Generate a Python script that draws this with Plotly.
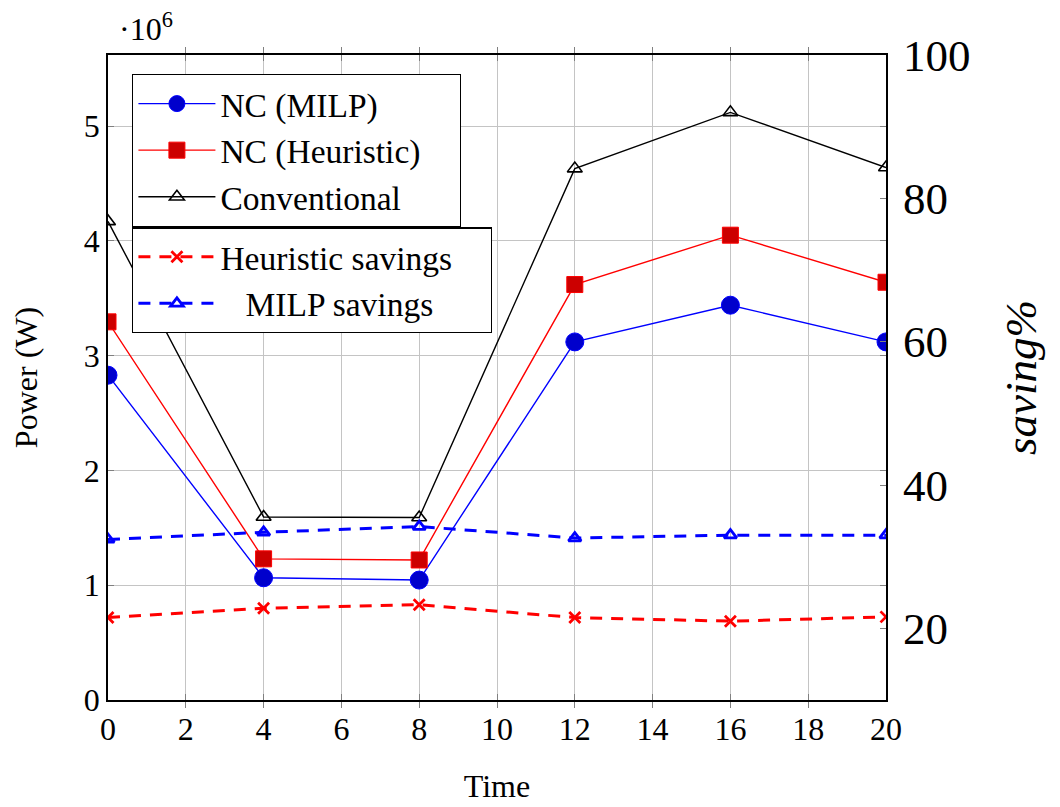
import plotly.graph_objects as go

time = [0, 4, 8, 12, 16, 20]
nc_milp = [2.83e6, 1.065e6, 1.045e6, 3.12e6, 3.44e6, 3.12e6]
nc_heur = [3.295e6, 1.23e6, 1.22e6, 3.62e6, 4.05e6, 3.64e6]
conventional = [4.17e6, 1.595e6, 1.59e6, 4.63e6, 5.12e6, 4.64e6]
heur_savings = [21.5, 22.8, 23.3, 21.5, 21.0, 21.6]
milp_savings = [32.4, 33.4, 34.2, 32.6, 33.0, 33.0]

left_ticks = [0, 1e6, 2e6, 3e6, 4e6, 5e6]
left_ticktext = ["0", "1", "2", "3", "4", "5"]
right_ticks = [20, 40, 60, 80, 100]
x_ticks = [0, 2, 4, 6, 8, 10, 12, 14, 16, 18, 20]

FONT = "Liberation Serif"
BASE = 32
LEG = 33.5
NB = "\u00a0"

fig = go.Figure()
fig.add_trace(go.Scatter(x=time, y=nc_milp, name="NC (MILP)", mode="lines+markers",
                         line=dict(color="#0000ff", width=1.4),
                         marker=dict(symbol="circle", size=18, color="#0000cc",
                                     line=dict(color="#0000ff", width=1)),
                         legend="legend"))
fig.add_trace(go.Scatter(x=time, y=nc_heur, name="NC (Heuristic)" + NB * 4, mode="lines+markers",
                         line=dict(color="#ff0000", width=1.4),
                         marker=dict(symbol="square", size=16, color="#cc0000",
                                     line=dict(color="#ff0000", width=1)),
                         legend="legend"))
fig.add_trace(go.Scatter(x=time, y=conventional, name="Conventional", mode="lines+markers",
                         line=dict(color="#000000", width=1.4),
                         marker=dict(symbol="triangle-up-open", size=13, color="#000000",
                                     line=dict(color="#000000", width=1.6)),
                         legend="legend"))
fig.add_trace(go.Scatter(x=time, y=heur_savings, name="Heuristic savings" + NB * 4,
                         mode="lines+markers", yaxis="y2",
                         line=dict(color="#ff0000", width=3, dash="12px,9px"),
                         marker=dict(symbol="x-thin-open", size=11, color="#ff0000",
                                     line=dict(color="#ff0000", width=2.8)),
                         legend="legend2"))
fig.add_trace(go.Scatter(x=time, y=milp_savings, name=NB * 3 + "MILP savings",
                         mode="lines+markers", yaxis="y2",
                         line=dict(color="#0000ff", width=3, dash="12px,9px"),
                         marker=dict(symbol="triangle-up-open", size=11, color="#0000ff",
                                     line=dict(color="#0000ff", width=2.8)),
                         legend="legend2"))

legend_common = dict(
    bgcolor="white", bordercolor="black", borderwidth=1.3,
    font=dict(family=FONT, size=LEG, color="black"),
    xanchor="left", yanchor="top", itemwidth=77,
    tracegroupgap=0,
)

fig.update_layout(
    width=1052, height=799,
    margin=dict(l=100, r=174, t=47, b=107, pad=0),
    paper_bgcolor="white", plot_bgcolor="white",
    font=dict(family=FONT, size=BASE, color="black"),
    showlegend=True,
    legend=dict(x=0.031, y=0.9705, **legend_common),
    legend2=dict(x=0.031, y=0.733, **legend_common),
    xaxis=dict(
        range=[0, 20], tickvals=x_ticks, ticktext=[str(v) for v in x_ticks],
        showgrid=True, gridcolor="#c4c4c4", gridwidth=1.4,
        showline=True, linecolor="black", linewidth=1.6, mirror="allticks",
        ticks="inside", ticklen=6, tickcolor="#808080", tickwidth=1.2,
        zeroline=False, automargin=False,
        tickfont=dict(family=FONT, size=BASE),
        title=dict(text="Time", font=dict(family=FONT, size=BASE), standoff=28),
    ),
    yaxis=dict(
        range=[0, 5.62e6], tickvals=left_ticks, ticktext=left_ticktext,
        showgrid=True, gridcolor="#c4c4c4", gridwidth=1.4,
        showline=True, linecolor="black", linewidth=1.6, mirror="allticks",
        ticks="inside", ticklen=6, tickcolor="#808080", tickwidth=1.2,
        zeroline=False, automargin=False,
        tickfont=dict(family=FONT, size=BASE),
        title=dict(text="Power (W)", font=dict(family=FONT, size=BASE), standoff=37),
    ),
    yaxis2=dict(
        range=[10, 100], tickvals=right_ticks, ticktext=[str(v) for v in right_ticks],
        overlaying="y", side="right", anchor="x",
        showgrid=False, showline=False,
        ticks="inside", ticklen=6, tickcolor="#808080", tickwidth=1.2,
        zeroline=False, automargin=False, ticklabelstandoff=16,
        tickfont=dict(family=FONT, size=45),
        title=dict(text="<i>saving%</i>", font=dict(family=FONT, size=45), standoff=34),
    ),
    annotations=[dict(
        text="·10<sup>6</sup>", xref="paper", yref="paper",
        x=0.0116, y=1.078, xanchor="left", yanchor="top", showarrow=False,
        font=dict(family=FONT, size=BASE, color="black"),
    )],
)

fig.write_html("out.html")
